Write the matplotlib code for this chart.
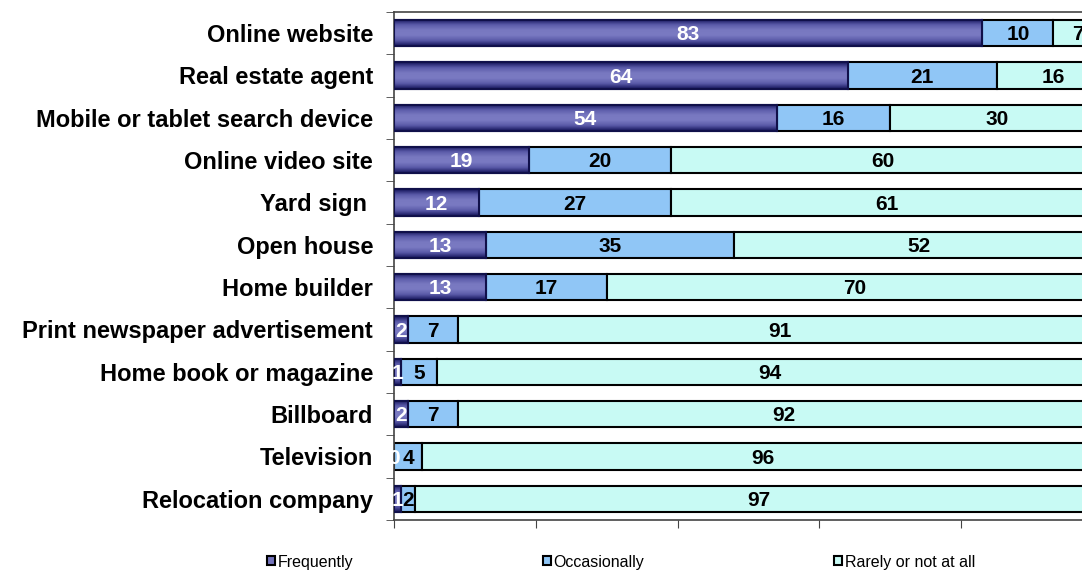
import matplotlib.pyplot as plt
import numpy as np
from matplotlib.patches import Patch
from matplotlib.colors import LinearSegmentedColormap

# Données (en %)
categories = ["Online website", "Real estate agent", "Mobile or tablet search device",
              "Online video site", "Yard sign ", "Open house", "Home builder",
              "Print newspaper advertisement", "Home book or magazine", "Billboard",
              "Television", "Relocation company"]
frequently = [83, 64, 54, 19, 12, 13, 13, 2, 1, 2, 0, 1]
occasionally = [10, 21, 16, 20, 27, 35, 17, 7, 5, 7, 4, 2]
rarely = [7, 16, 30, 60, 61, 52, 70, 91, 94, 92, 96, 97]
series_names = ["Frequently", "Occasionally", "Rarely or not at all"]

col_freq = "#7474bc"
col_occ = "#90c6f6"
col_rare = "#c8faf4"

W, H = 1082, 571
fig = plt.figure(figsize=(W / 100, H / 100), dpi=100)
ax = fig.add_axes([394 / W, 1 - 520 / H, 709 / W, 508 / H])

y = np.arange(len(categories))
h = 0.62
left2 = np.array(frequently) + np.array(occasionally)

b1 = ax.barh(y, frequently, height=h, color=col_freq, edgecolor="#10104a", linewidth=1.5, zorder=2)
b2 = ax.barh(y, occasionally, left=frequently, height=h, color=col_occ, edgecolor="black", linewidth=1.5, zorder=2)
b3 = ax.barh(y, rarely, left=left2, height=h, color=col_rare, edgecolor="black", linewidth=1.5, zorder=2)

# dégradé vertical sur la série "Frequently"
grad_cmap = LinearSegmentedColormap.from_list(
    "g", ["#14145a", "#5a5aa8", "#7878c0", "#7a7ac2", "#5a5aa8", "#14145a"])
grad = np.linspace(0, 1, 64).reshape(-1, 1)
for r in b1:
    if r.get_width() <= 0:
        continue
    im = ax.imshow(grad, cmap=grad_cmap, aspect="auto", interpolation="bilinear",
                   extent=[r.get_x(), r.get_x() + r.get_width(),
                           r.get_y() + r.get_height(), r.get_y()], zorder=2.5)
    im.set_clip_path(r)
    ax.add_patch(plt.Rectangle((r.get_x(), r.get_y()), r.get_width(), r.get_height(),
                               fill=False, edgecolor="#10104a", linewidth=1.5, zorder=3))

lab_font = ["Liberation Sans Narrow", "Liberation Sans", "DejaVu Sans"]
for bars, vals, c in [(b1, frequently, "white"), (b2, occasionally, "black"), (b3, rarely, "black")]:
    for r, v in zip(bars, vals):
        ax.text(r.get_x() + r.get_width() / 2, r.get_y() + r.get_height() / 2 + 0.04, str(v),
                ha="center", va="center", color=c, fontsize=15, fontweight="bold",
                family=lab_font, zorder=4)

ax.set_xlim(0, 100)
ax.set_ylim(len(categories) - 0.5, -0.5)
ax.set_yticks(y)
ax.set_yticklabels(categories, fontsize=17, fontweight="bold", family=["Liberation Sans", "DejaVu Sans"])
ax.set_yticks(np.arange(-0.5, len(categories), 1), minor=True)
ax.tick_params(axis="y", which="major", length=0, pad=15)
ax.tick_params(axis="y", which="minor", length=6, direction="out", color="#444444")
ax.set_xticks([0, 20, 40, 60, 80, 100])
ax.set_xticklabels([])
ax.tick_params(axis="x", length=6, direction="out", color="#444444")
for s in ax.spines.values():
    s.set_color("#444444")
    s.set_linewidth(1.2)

handles = [Patch(facecolor=col_freq, edgecolor="black", linewidth=1.5),
           Patch(facecolor=col_occ, edgecolor="black", linewidth=1.5),
           Patch(facecolor=col_rare, edgecolor="black", linewidth=1.5)]
fig.legend(handles, series_names, loc="center left", bbox_to_anchor=(259 / W, 1 - 562 / H),
           ncol=3, frameon=False, handlelength=0.5, handleheight=0.5,
           handletextpad=0.15, columnspacing=11.9, borderpad=0,
           prop={"family": ["Liberation Sans Narrow", "Liberation Sans"], "size": 11.5})

fig.savefig("out.png", dpi=100)
